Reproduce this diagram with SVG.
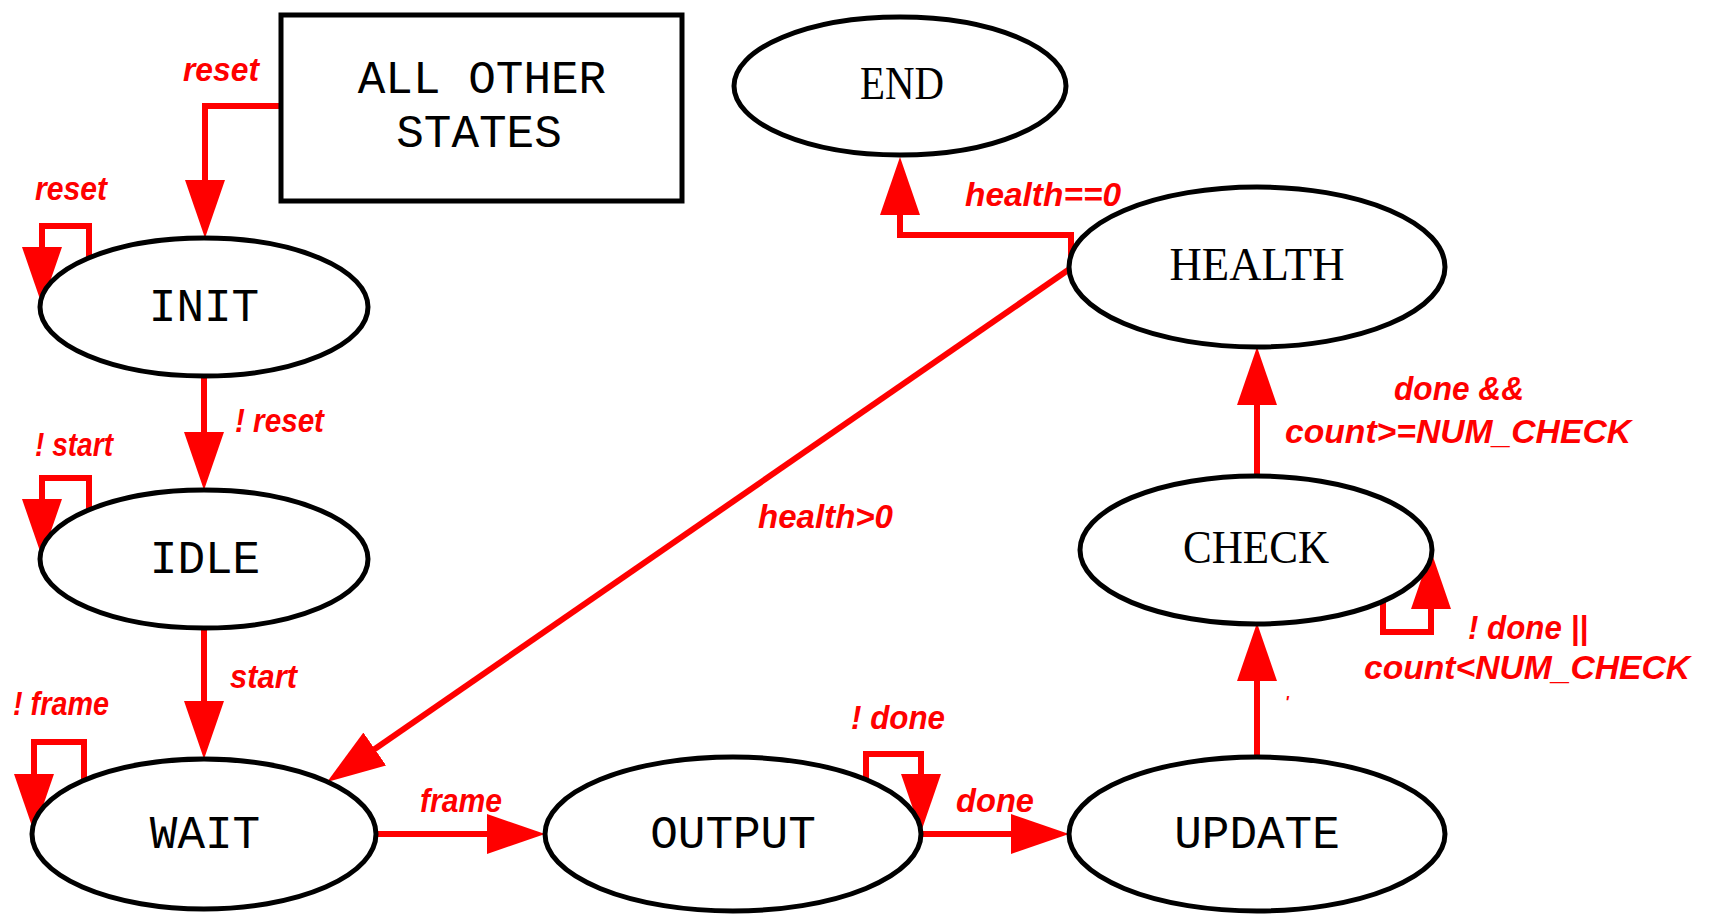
<svg xmlns="http://www.w3.org/2000/svg" width="1711" height="915" viewBox="0 0 1711 915">
<style>
.node{fill:#fff;stroke:#000;stroke-width:5}
.nt{font-family:"Liberation Mono","Courier New",monospace;font-size:46px;fill:#000;text-anchor:middle}
.ns{font-family:"Liberation Serif","Times New Roman",serif;font-size:46px;fill:#000;text-anchor:middle}
.edge{fill:none;stroke:#ff0000;stroke-width:6;marker-end:url(#ah)}
.lbl{font-family:"Liberation Sans",Arial,sans-serif;font-size:34px;font-style:italic;font-weight:bold;fill:#ff0000}
</style>
<defs>
<marker id="ah" markerUnits="userSpaceOnUse" markerWidth="58" markerHeight="40" refX="38" refY="20" orient="auto">
<path d="M0,0 L58,20 L0,40 z" fill="#ff0000"/>
</marker>
</defs>
<rect width="1711" height="915" fill="#fff"/>
<g id="connectors">
<path class="edge" d="M282 106 H205 V218"/>
<path class="edge" d="M89 258 V226 H42 V285"/>
<path class="edge" d="M204 376 V470"/>
<path class="edge" d="M89 510 V478 H42 V537"/>
<path class="edge" d="M204 628 V739"/>
<path class="edge" d="M84 780 V742 H34 V812"/>
<path class="edge" d="M376 834 H525"/>
<path class="edge" d="M866 780 V754 H921 V812"/>
<path class="edge" d="M921 834 H1049"/>
<path class="edge" d="M1257 757 V643"/>
<path class="edge" d="M1383 601 V632 H1431 V571"/>
<path class="edge" d="M1257 477 V367"/>
<path class="edge" d="M1071 262 V235 H900 V177"/>
<path class="edge" d="M1071 268 L343.5 770.6"/>
<text class="lbl" x="183" y="81" textLength="76" lengthAdjust="spacingAndGlyphs">reset</text>
<text class="lbl" x="35" y="200" textLength="72" lengthAdjust="spacingAndGlyphs">reset</text>
<text class="lbl" x="235" y="432" textLength="89" lengthAdjust="spacingAndGlyphs">! reset</text>
<text class="lbl" x="35" y="456" textLength="78" lengthAdjust="spacingAndGlyphs">! start</text>
<text class="lbl" x="230" y="688" textLength="67" lengthAdjust="spacingAndGlyphs">start</text>
<text class="lbl" x="13" y="715" textLength="96" lengthAdjust="spacingAndGlyphs">! frame</text>
<text class="lbl" x="758" y="528" textLength="135" lengthAdjust="spacingAndGlyphs">health&gt;0</text>
<text class="lbl" x="965" y="206" textLength="156" lengthAdjust="spacingAndGlyphs">health==0</text>
<text class="lbl" x="1394" y="400" textLength="130" lengthAdjust="spacingAndGlyphs">done &amp;&amp;</text>
<text class="lbl" x="1285" y="443" textLength="346" lengthAdjust="spacingAndGlyphs">count&gt;=NUM_CHECK</text>
<text class="lbl" x="1468" y="639" textLength="120" lengthAdjust="spacingAndGlyphs">! done ||</text>
<text class="lbl" x="1364" y="679" textLength="326" lengthAdjust="spacingAndGlyphs">count&lt;NUM_CHECK</text>
<text class="lbl" x="420" y="812" textLength="82" lengthAdjust="spacingAndGlyphs">frame</text>
<text class="lbl" x="851" y="729" textLength="94" lengthAdjust="spacingAndGlyphs">! done</text>
<text class="lbl" x="956" y="812" textLength="78" lengthAdjust="spacingAndGlyphs">done</text>
<text class="lbl" x="1285" y="708" style="font-size:16px">'</text>
</g>
<g id="all_other_states">
<rect x="281" y="15" width="401" height="186" fill="#fff" stroke="#000" stroke-width="5"/>
<text class="nt" x="482" y="93">ALL OTHER</text>
<text class="nt" x="479" y="147">STATES</text>
</g>
<g id="end"><ellipse class="node" cx="900" cy="86" rx="166" ry="69"/><text class="ns" x="902" y="99" textLength="84" lengthAdjust="spacingAndGlyphs">END</text></g>
<g id="init"><ellipse class="node" cx="204" cy="307" rx="164" ry="69"/><text class="nt" x="204" y="321">INIT</text></g>
<g id="health"><ellipse class="node" cx="1257" cy="267" rx="188" ry="80"/><text class="ns" x="1257" y="280" textLength="175" lengthAdjust="spacingAndGlyphs">HEALTH</text></g>
<g id="idle"><ellipse class="node" cx="204" cy="559" rx="164" ry="69"/><text class="nt" x="205" y="573">IDLE</text></g>
<g id="check"><ellipse class="node" cx="1256" cy="550" rx="176" ry="74"/><text class="ns" x="1256" y="563" textLength="146" lengthAdjust="spacingAndGlyphs">CHECK</text></g>
<g id="wait"><ellipse class="node" cx="204" cy="834" rx="172" ry="75"/><text class="nt" x="205" y="848">WAIT</text></g>
<g id="output"><ellipse class="node" cx="733" cy="834" rx="188" ry="77"/><text class="nt" x="733" y="848">OUTPUT</text></g>
<g id="update"><ellipse class="node" cx="1257" cy="834" rx="188" ry="77"/><text class="nt" x="1257" y="848">UPDATE</text></g>
</svg>
